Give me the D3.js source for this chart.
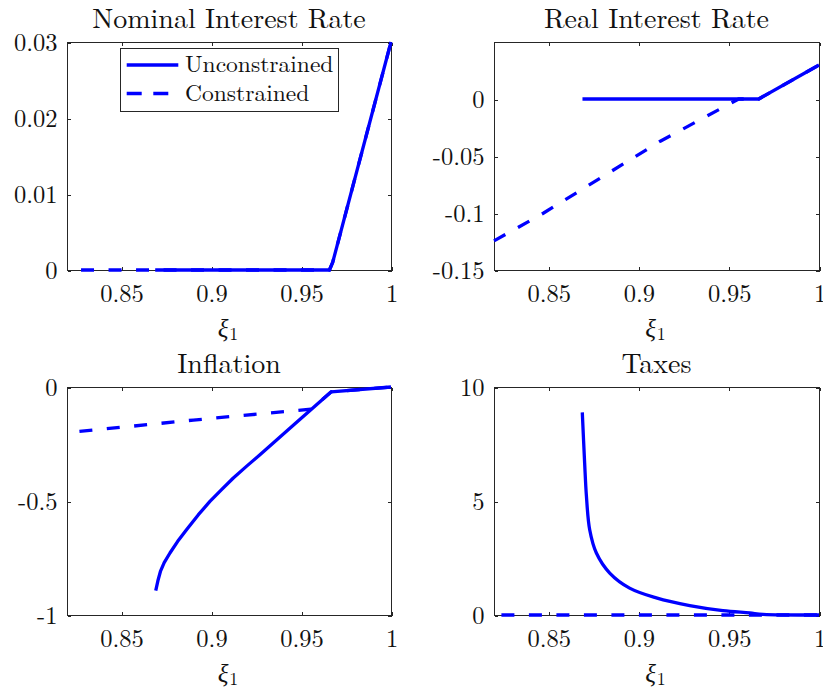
<!DOCTYPE html>
<html>
<head>
<meta charset="utf-8">
<script src="https://cdn.jsdelivr.net/npm/d3@7"></script>
<style>
  html, body { margin: 0; padding: 0; background: #fff; }
  svg { display: block; }
</style>
</head>
<body>
<svg id="chart" width="823" height="692"></svg>
<script>
// ---- data ----
const panelTitles = ["Nominal Interest Rate", "Real Interest Rate", "Inflation", "Taxes"];
const seriesNames = ["Unconstrained", "Constrained"];

const xDomain = [0.82, 1];
const xTicks = [0.85, 0.9, 0.95, 1];
const xTickLabels = ["0.85", "0.9", "0.95", "1"];

// Nominal interest rate
const nominalDomain = [0, 0.03];
const nominalTicks = [0, 0.01, 0.02, 0.03];
const nominalTickLabels = ["0", "0.01", "0.02", "0.03"];
const nominalUncX = [0.869, 0.9658, 0.9676, 1];
const nominalUncY = [0, 0, 0.001, 0.03];
const nominalConX = [0.8278, 0.9658, 0.9676, 1];
const nominalConY = [0, 0, 0.001, 0.03];

// Real interest rate
const realDomain = [-0.15, 0.05];
const realTicks = [-0.15, -0.1, -0.05, 0];
const realTickLabels = ["-0.15", "-0.1", "-0.05", "0"];
const realUncX = [0.869, 0.9666, 1];
const realUncY = [0, 0, 0.0298];
const realConX = [0.82, 0.8475, 0.9121, 0.9555, 0.9666, 1];
const realConY = [-0.1245, -0.1, -0.037, 0, 0, 0.0298];

// Inflation
const inflDomain = [-1, 0];
const inflTicks = [-1, -0.5, 0];
const inflTickLabels = ["-1", "-0.5", "0"];
const inflUncX = [0.8693, 0.8705, 0.8719, 0.874, 0.8772, 0.8815, 0.8865, 0.893, 0.8994, 0.906, 0.9124, 0.92, 0.9272, 0.9457, 0.9569, 0.9668, 1];
const inflUncY = [-0.893, -0.85, -0.809, -0.77, -0.728, -0.677, -0.625, -0.56, -0.502, -0.449, -0.399, -0.346, -0.297, -0.168, -0.09, -0.021, 0];
const inflConX = [0.8269, 0.8902, 0.9555, 0.9569, 0.9668, 1];
const inflConY = [-0.195, -0.145, -0.097, -0.09, -0.021, 0];

// Taxes
const taxDomain = [0, 10];
const taxTicks = [0, 5, 10];
const taxTickLabels = ["0", "5", "10"];
const taxUncX = [0.8689, 0.8702, 0.8712, 0.873, 0.8767, 0.8841, 0.8951, 0.9099, 0.9284, 0.9468, 0.9616, 0.969, 1];
const taxUncY = [8.89, 6.67, 5.2, 3.74, 2.72, 1.84, 1.18, 0.75, 0.41, 0.19, 0.09, 0.03, 0];
const taxConX = [0.8241, 1];
const taxConY = [0, 0];

// ---- layout ----
const FONT = "\"Latin Modern Roman\"";
const svg = d3.select("#chart");
const BLUE = "#0000ff";
const AXIS = "#262626";
const INK = "#111111";
const LW = 3.3;
const DASH = "13,14.5";
const TICK = 3.5;

const cols = [[67, 391], [494, 819]];
const rows = [[42, 270], [387, 615]];

const panels = [
  { title: panelTitles[0], col: 0, row: 0, yDomain: nominalDomain, yTicks: nominalTicks, yLabels: nominalTickLabels,
    unc: [nominalUncX, nominalUncY], con: [nominalConX, nominalConY], curve: d3.curveLinear, legend: true },
  { title: panelTitles[1], col: 1, row: 0, yDomain: realDomain, yTicks: realTicks, yLabels: realTickLabels,
    unc: [realUncX, realUncY], con: [realConX, realConY], curve: d3.curveLinear },
  { title: panelTitles[2], col: 0, row: 1, yDomain: inflDomain, yTicks: inflTicks, yLabels: inflTickLabels,
    unc: [inflUncX, inflUncY], con: [inflConX, inflConY], curve: d3.curveLinear },
  { title: panelTitles[3], col: 1, row: 1, yDomain: taxDomain, yTicks: taxTicks, yLabels: taxTickLabels,
    unc: [taxUncX, taxUncY], con: [taxConX, taxConY], curve: d3.curveCatmullRom.alpha(0.5) }
];

function serif(sel, size) {
  return sel.style("font-family", FONT).style("font-size", size + "px").style("fill", INK);
}

function zip(xs, ys) { return xs.map((x, i) => [x, ys[i]]); }

panels.forEach(p => {
  const [x0, x1] = cols[p.col];
  const [y0, y1] = rows[p.row];
  const x = d3.scaleLinear().domain(xDomain).range([x0, x1]);
  const y = d3.scaleLinear().domain(p.yDomain).range([y1, y0]);
  const g = svg.append("g");

  // box
  g.append("rect")
    .attr("x", x0 + 0.5).attr("y", y0 + 0.5)
    .attr("width", x1 - x0).attr("height", y1 - y0)
    .attr("fill", "none").attr("stroke", AXIS).attr("stroke-width", 1)
    .attr("shape-rendering", "crispEdges");

  // bottom axis (inward ticks, labels)
  const gb = g.append("g").attr("transform", `translate(0.5,${y1 + 0.5})`)
    .call(d3.axisBottom(x).tickValues(xTicks).tickFormat((d, i) => xTickLabels[i])
      .tickSizeInner(-TICK).tickSizeOuter(0).tickPadding(0));
  // top axis (inward ticks only)
  const gt = g.append("g").attr("transform", `translate(0.5,${y0 + 0.5})`)
    .call(d3.axisTop(x).tickValues(xTicks).tickFormat("")
      .tickSizeInner(-TICK).tickSizeOuter(0));
  // left axis
  const gl = g.append("g").attr("transform", `translate(${x0 + 0.5},0.5)`)
    .call(d3.axisLeft(y).tickValues(p.yTicks).tickFormat((d, i) => p.yLabels[i])
      .tickSizeInner(-TICK).tickSizeOuter(0).tickPadding(0));
  // right axis
  const gr = g.append("g").attr("transform", `translate(${x1 + 0.5},0.5)`)
    .call(d3.axisRight(y).tickValues(p.yTicks).tickFormat("")
      .tickSizeInner(-TICK).tickSizeOuter(0));

  [gb, gt, gl, gr].forEach(a => {
    a.select(".domain").remove();
    a.selectAll(".tick line").attr("stroke", AXIS).attr("shape-rendering", "crispEdges");
    a.attr("font-family", null).attr("font-size", null);
  });

  serif(gb.selectAll(".tick text").attr("y", 31).attr("dy", null), 24.5);
  serif(gl.selectAll(".tick text").attr("x", -10).attr("dy", "0.33em"), 24.5);

  // title
  serif(g.append("text"), 28)
    .attr("x", (x0 + x1) / 2).attr("y", y0 - 14)
    .attr("text-anchor", "middle")
    .text(p.title);

  // x-axis label ξ₁
  const xl = serif(g.append("text"), 25)
    .attr("x", (x0 + x1) / 2 - 1).attr("y", y1 + 67)
    .attr("text-anchor", "middle");
  xl.append("tspan").style("font-style", "italic").text("ξ");
  xl.append("tspan").style("font-size", "18px").attr("dy", 3).attr("dx", 1).text("1");

  // series
  const line = d3.line().x(d => x(d[0])).y(d => y(d[1])).curve(p.curve);
  g.append("path")
    .attr("d", line(zip(p.unc[0], p.unc[1])))
    .attr("fill", "none").attr("stroke", BLUE).attr("stroke-width", LW)
    .attr("stroke-linejoin", "round");
  g.append("path")
    .attr("d", line(zip(p.con[0], p.con[1])))
    .attr("fill", "none").attr("stroke", BLUE).attr("stroke-width", LW)
    .attr("stroke-dasharray", DASH);

  // legend
  if (p.legend) {
    const lg = g.append("g");
    lg.append("rect")
      .attr("x", 120.5).attr("y", 48.5).attr("width", 218).attr("height", 63)
      .attr("fill", "#fff").attr("stroke", AXIS).attr("stroke-width", 1)
      .attr("shape-rendering", "crispEdges");
    const rowsY = [65, 93.5];
    seriesNames.forEach((name, i) => {
      lg.append("line")
        .attr("x1", 126.7).attr("x2", 178.3)
        .attr("y1", rowsY[i]).attr("y2", rowsY[i])
        .attr("stroke", BLUE).attr("stroke-width", LW)
        .attr("stroke-dasharray", i === 1 ? "15,11.6" : null);
      serif(lg.append("text"), 23.5)
        .attr("x", 185).attr("y", rowsY[i] + 7)
        .text(name);
    });
  }
});
</script>
</body>
</html>
